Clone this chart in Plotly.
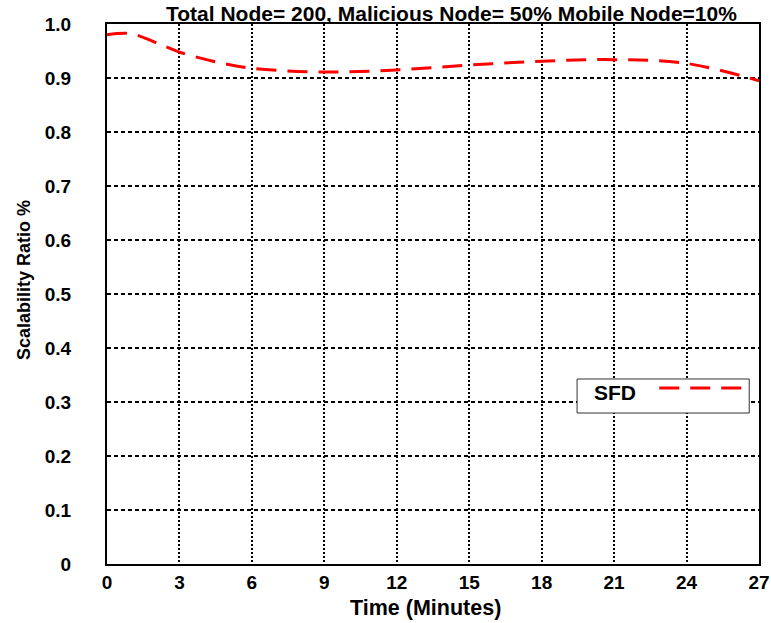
import plotly.graph_objects as go

# Scalability ratio of SFD over time
time_min = [0, 1, 2, 3, 4.5, 6, 9, 12, 15, 18, 21, 24, 27]
sfd_ratio = [0.980, 0.982, 0.966, 0.948, 0.930, 0.918, 0.911, 0.915, 0.924, 0.931, 0.934, 0.927, 0.895]

x_ticks = [0, 3, 6, 9, 12, 15, 18, 21, 24, 27]
y_ticks = [0, 0.1, 0.2, 0.3, 0.4, 0.5, 0.6, 0.7, 0.8, 0.9, 1.0]
y_tick_text = ["0", "0.1", "0.2", "0.3", "0.4", "0.5", "0.6", "0.7", "0.8", "0.9", "1.0"]

series_name = "SFD"
line_color = "#ff0000"
line_dash = "20px,11px"

FONT = "Liberation Sans, Arial, sans-serif"

fig = go.Figure()
fig.add_trace(go.Scatter(
    x=time_min, y=sfd_ratio, mode="lines", name=series_name,
    line=dict(color=line_color, width=3, dash=line_dash, shape="spline", smoothing=1.0),
    showlegend=False,
))

fig.update_layout(
    width=771, height=623,
    margin=dict(l=107, r=12, t=24, b=59),
    paper_bgcolor="white", plot_bgcolor="white",
    font=dict(family=FONT, color="black"),
    xaxis=dict(
        range=[0, 27], tickvals=x_ticks, ticks="", automargin=False,
        ticklabeloverflow="allow",
        showgrid=True, gridcolor="black", gridwidth=2, griddash="2px,2px",
        showline=True, linecolor="black", linewidth=2, mirror=True,
        zeroline=False,
        tickfont=dict(size=19, weight="bold"),
    ),
    yaxis=dict(
        range=[0, 1.0], tickvals=y_ticks, ticktext=y_tick_text, ticks="", automargin=False,
        ticklabeloverflow="allow",
        showgrid=True, gridcolor="black", gridwidth=1.5, griddash="4px,3px",
        showline=True, linecolor="black", linewidth=2, mirror=True,
        zeroline=False, ticklabelstandoff=30,
        tickfont=dict(size=19, weight="bold"),
    ),
    annotations=[
        dict(text="Total Node= 200, Malicious Node= 50% Mobile Node=10%",
             xref="paper", yref="paper", x=0.528, y=1.0, yshift=-3,
             xanchor="center", yanchor="bottom", showarrow=False,
             font=dict(size=21, weight="bold")),
        dict(text="Time (Minutes)", xref="paper", yref="paper", x=0.488, y=0,
             yshift=-30, xanchor="center", yanchor="top", showarrow=False,
             font=dict(size=21.5, weight="bold")),
        dict(text="Scalability Ratio %", xref="paper", yref="paper", x=0, y=0.526,
             xshift=-83, xanchor="center", yanchor="middle", textangle=-90,
             showarrow=False, font=dict(size=18, weight="bold")),
        dict(text=series_name, xref="paper", yref="paper", x=0.744, y=0.3185,
             xanchor="left", yanchor="middle", showarrow=False,
             font=dict(size=21, weight="bold")),
    ],
    shapes=[
        dict(type="rect", xref="paper", yref="paper", x0=0.721, x1=0.985, y0=0.2796, y1=0.3426,
             line=dict(color="#333333", width=1), fillcolor="white", layer="above"),
        dict(type="line", xref="paper", yref="paper", x0=0.847, x1=0.974, y0=0.326, y1=0.326,
             line=dict(color=line_color, width=3, dash=line_dash), layer="above"),
    ],
)

fig.write_html("out.html")
